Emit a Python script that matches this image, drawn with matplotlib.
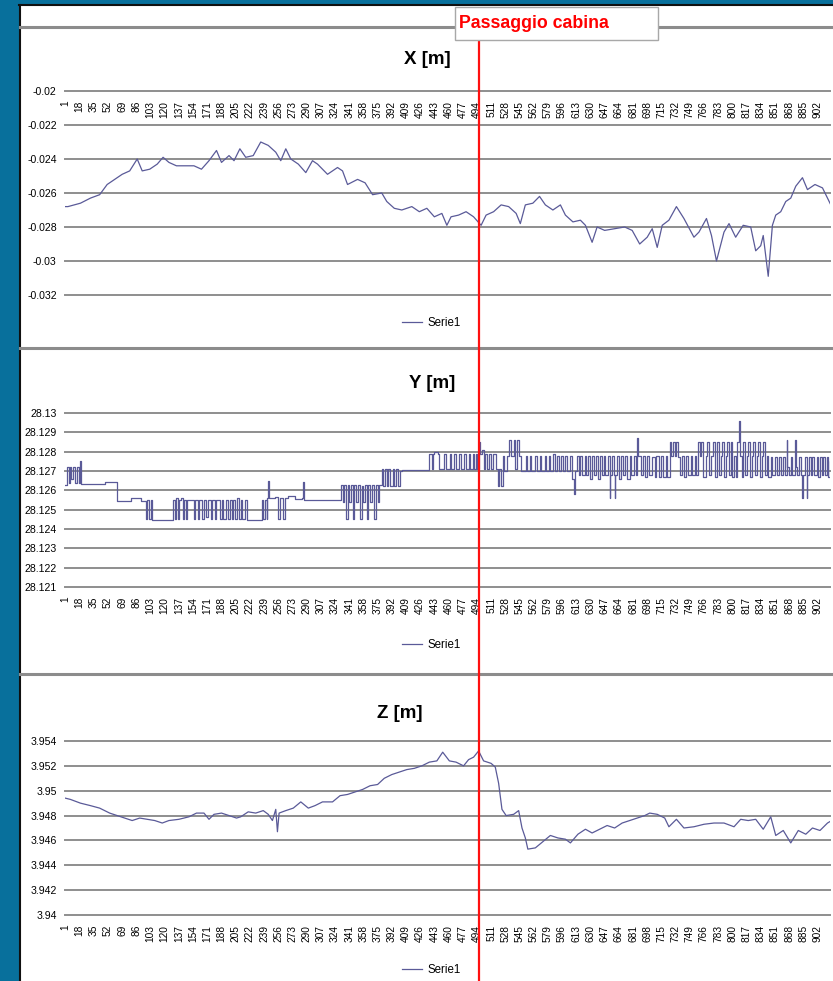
import numpy as np
import matplotlib
matplotlib.use("Agg")
import matplotlib.pyplot as plt
from matplotlib import font_manager
from matplotlib.lines import Line2D
from matplotlib.patches import Rectangle
from matplotlib.ticker import FuncFormatter

W, H = 833, 981

installed = {f.name for f in font_manager.fontManager.ttflist}
NARROW = "Liberation Sans Narrow" if "Liberation Sans Narrow" in installed else "Liberation Sans"
PLAIN = "Liberation Sans"

# sample index of each reading (1 ... ~919)
x_idx = [1, 4, 19, 31, 42, 51, 60, 69, 78, 87, 93, 102, 111, 118, 125, 134, 143, 155, 164,
         173, 182, 188, 197, 203, 210, 217, 226, 235, 244, 253, 259, 265, 271, 280, 289, 297,
         303, 315, 327, 333, 339, 351, 360, 369, 380, 386, 395, 404, 416, 425, 434, 443, 452,
         458, 463, 472, 481, 490, 499, 505, 514, 523, 532, 541, 546, 552, 561, 569, 576, 585,
         594, 600, 609, 618, 624, 632, 638, 647, 659, 671, 680, 689, 698, 704, 710, 716, 724,
         733, 742, 754, 760, 769, 775, 781, 790, 796, 804, 813, 822, 828, 834, 837, 843, 848,
         852, 858, 864, 870, 876, 884, 890, 899, 908, 914, 919]
x_val = [-0.0268, -0.0268, -0.0266, -0.0263, -0.0261, -0.0255, -0.0252, -0.0249, -0.0247,
         -0.0240, -0.0247, -0.0246, -0.0243, -0.0239, -0.0242, -0.0244, -0.0244, -0.0244,
         -0.0246, -0.0241, -0.0235, -0.0242, -0.0238, -0.0241, -0.0234, -0.0239, -0.0238,
         -0.0230, -0.0232, -0.0236, -0.0241, -0.0234, -0.0240, -0.0243, -0.0248, -0.0241,
         -0.0243, -0.0249, -0.0245, -0.0247, -0.0255, -0.0252, -0.0254, -0.0261, -0.0260,
         -0.0265, -0.0269, -0.0270, -0.0268, -0.0271, -0.0269, -0.0274, -0.0272, -0.0279,
         -0.0274, -0.0273, -0.0271, -0.0274, -0.0279, -0.0273, -0.0271, -0.0267, -0.0268,
         -0.0272, -0.0278, -0.0267, -0.0266, -0.0262, -0.0267, -0.0270, -0.0267, -0.0273,
         -0.0277, -0.0276, -0.0279, -0.0289, -0.0280, -0.0282, -0.0281, -0.0280, -0.0282,
         -0.0290, -0.0286, -0.0281, -0.0292, -0.0279, -0.0276, -0.0268, -0.0275, -0.0286,
         -0.0283, -0.0275, -0.0285, -0.0300, -0.0283, -0.0278, -0.0286, -0.0279, -0.0280,
         -0.0294, -0.0291, -0.0285, -0.0309, -0.0279, -0.0273, -0.0271, -0.0265, -0.0263,
         -0.0256, -0.0251, -0.0258, -0.0255, -0.0257, -0.0263, -0.0268]

# Y is quantised: each knot holds its value until the next one
y_idx = [1, 3, 5, 6, 8, 10, 13, 15, 17, 19, 20,
         49, 63, 79, 91, 97, 99, 101, 103, 105,
         130, 132, 133, 136, 137, 140, 142, 143, 146, 147,
         155, 156, 160, 161, 165, 167, 170, 172, 176, 177, 180, 182, 186, 188, 190, 193, 196,
         198, 200, 202, 204, 206, 209, 211, 213, 216, 218, 236, 238, 240, 242, 243,
         244, 245, 252, 256, 258, 262, 264, 268, 276, 285, 286, 287,
         331, 333, 335, 337, 339, 341, 343, 345, 347, 349, 351, 354, 356, 358, 360, 362, 364,
         366, 368, 371, 373, 376, 377,
         380, 382, 384, 386, 388, 390, 393, 395, 397, 400, 402, 404,
         437, 440, 441, 443, 447, 449, 455, 457, 462, 463, 467, 469, 473, 475, 479, 481, 484,
         486, 489, 490, 493, 494,
         496, 498, 500, 502, 504, 506, 508, 511, 513, 517, 519, 521, 523, 525, 527, 530, 533,
         535, 538, 540, 542, 544, 547, 553, 554, 558, 559, 564, 566, 569, 571, 575, 577, 580,
         582, 585, 587, 590, 592, 595, 597, 600, 602, 606, 608, 610, 611,
         614, 616, 618, 620, 623, 625, 627, 630, 632, 634, 637, 639, 641, 644, 646, 648, 651,
         653, 654, 656, 658, 659, 660, 662, 664, 667, 669, 672, 674, 677, 679, 682, 684, 686,
         687, 690, 693, 695, 698, 700, 704, 707, 709, 712, 715, 717, 720, 722, 725, 727, 729,
         731, 733, 735, 737, 740, 742, 745, 747, 750, 752, 755, 757, 759, 761, 763, 765, 768,
         770, 772, 775, 777, 779, 782, 784, 786, 788, 790, 792, 794, 796, 798, 800, 802, 804,
         806, 808, 809, 811, 813, 815, 817, 819, 821, 823, 825, 827, 829, 831, 833, 835, 837,
         839, 841, 843, 846, 848, 851, 853, 856, 858, 861, 863, 865, 866, 868, 870, 872, 875,
         876, 878, 880, 882, 884, 885, 887, 889, 890, 892, 894, 896, 898, 901, 903, 905, 907,
         909, 911, 913, 915, 917, 919]
y_val = [28.1263, 28.1272, 28.1264, 28.1272, 28.1266, 28.1272, 28.1264, 28.1272, 28.1264,
         28.1275, 28.12635,
         28.12645, 28.12545, 28.1256, 28.12545, 28.1245, 28.1255, 28.1245, 28.1255, 28.12445,
         28.1255, 28.1245, 28.1256, 28.1245, 28.1255, 28.1256, 28.1245, 28.1255, 28.1245,
         28.1255,
         28.1245, 28.1255, 28.1245, 28.1255, 28.1245, 28.1255, 28.1246, 28.1255, 28.1245,
         28.1255, 28.1245, 28.1255, 28.1245, 28.1255, 28.1245, 28.1255, 28.1245, 28.1255,
         28.1245, 28.1255, 28.1245, 28.1256, 28.1245, 28.1255, 28.1245, 28.1255, 28.12445,
         28.1255, 28.1245, 28.1255, 28.1245, 28.1256,
         28.1265, 28.1256, 28.12565, 28.1245, 28.1256, 28.1245, 28.1256, 28.1257, 28.12555,
         28.1256, 28.12645, 28.1255,
         28.1263, 28.1254, 28.1263, 28.1245, 28.1263, 28.1254, 28.1263, 28.1245, 28.1263,
         28.1254, 28.1263, 28.1245, 28.1262, 28.1254, 28.1263, 28.1245, 28.1263, 28.1254,
         28.1263, 28.1245, 28.1263, 28.1254, 28.1263,
         28.1271, 28.1262, 28.1271, 28.1262, 28.1271, 28.1262, 28.1271, 28.1262, 28.1271,
         28.1262, 28.1270, 28.12705,
         28.1279, 28.1271, 28.1279, 28.1280, 28.1279, 28.1271, 28.1279, 28.1271, 28.1279,
         28.1271, 28.1279, 28.1271, 28.1279, 28.1271, 28.1279, 28.1271, 28.1279, 28.1271,
         28.1279, 28.1271, 28.1279, 28.1271,
         28.1285, 28.1279, 28.1281, 28.1271, 28.1279, 28.1271, 28.1279, 28.1271, 28.1279,
         28.1271, 28.1262, 28.1271, 28.1262, 28.1278, 28.1270, 28.1278, 28.1286, 28.1278,
         28.1286, 28.1271, 28.1286, 28.1278, 28.1270, 28.1278, 28.1270, 28.1278, 28.1270,
         28.1278, 28.1270, 28.1278, 28.1270, 28.1278, 28.1270, 28.1278, 28.1270, 28.1279,
         28.1270, 28.1278, 28.1270, 28.1278, 28.1270, 28.1278, 28.1270, 28.1278, 28.1266,
         28.1258, 28.1270,
         28.1278, 28.1268, 28.1278, 28.1268, 28.1278, 28.1268, 28.1278, 28.1266, 28.1278,
         28.1268, 28.1278, 28.1266, 28.1278, 28.1268, 28.1278, 28.1268, 28.1278, 28.1256,
         28.1268, 28.1278, 28.1268, 28.1256, 28.1268, 28.1278, 28.1266, 28.1278, 28.1268,
         28.1278, 28.1266, 28.1278, 28.1268, 28.1278, 28.1268, 28.1287, 28.1278, 28.1268,
         28.1278, 28.1267, 28.1278, 28.1268, 28.1277, 28.1267, 28.1278, 28.1267, 28.1278,
         28.1267, 28.1278, 28.1267, 28.1285, 28.1278, 28.1285, 28.1278, 28.1285, 28.1277,
         28.1268, 28.1278, 28.1267, 28.1278, 28.1268, 28.1278, 28.1268, 28.1278, 28.1268,
         28.1285, 28.1278, 28.1285, 28.1267, 28.1278, 28.1285, 28.1268, 28.1278, 28.1285,
         28.1267, 28.1285, 28.1268, 28.1278, 28.1285, 28.1267, 28.1278, 28.1285, 28.1268,
         28.1285, 28.1267, 28.1278, 28.1267, 28.1285, 28.1296, 28.1278, 28.1267, 28.1285,
         28.1268, 28.1278, 28.1285, 28.1267, 28.1278, 28.1285, 28.1268, 28.1278, 28.1285,
         28.1267, 28.1278, 28.1285, 28.1268, 28.1278, 28.1267, 28.1277, 28.1268, 28.1277,
         28.1268, 28.1277, 28.1268, 28.1277, 28.1268, 28.1286, 28.1272, 28.1268, 28.1277,
         28.1268, 28.1286, 28.1272, 28.1268, 28.1277, 28.1268, 28.1256, 28.1268, 28.1277,
         28.1256, 28.1268, 28.1277, 28.1268, 28.1277, 28.1268, 28.1277, 28.1267, 28.1277,
         28.1268, 28.1277, 28.1268, 28.1277, 28.1267, 28.1275, 28.1268]

z_idx = [1, 7, 19, 31, 42, 54, 63, 72, 81, 90, 99, 108, 117, 125, 137, 149, 158, 167, 173,
         179, 188, 197, 206, 211, 220, 229, 238, 244, 249, 253, 255, 257, 265, 274, 283, 292,
         300, 309, 321, 330, 339, 348, 357, 366, 375, 383, 392, 401, 410, 419, 428, 437, 446,
         453, 461, 469, 478, 484, 490, 496, 502, 511, 516, 520, 524, 529, 538, 544, 548, 552,
         555, 564, 573, 582, 591, 600, 606, 615, 624, 632, 641, 650, 659, 668, 677, 686, 695,
         701, 710, 719, 724, 733, 742, 754, 766, 778, 790, 802, 810, 819, 828, 837, 846, 852,
         861, 870, 879, 888, 896, 905, 914, 919]
z_val = [3.9494, 3.9493, 3.9490, 3.9488, 3.9486, 3.9482, 3.9480, 3.9478, 3.9476, 3.9478,
         3.9477, 3.9476, 3.9474, 3.9476, 3.9477, 3.9479, 3.9482, 3.9482, 3.9477, 3.9481,
         3.9482, 3.9480, 3.9478, 3.9479, 3.9483, 3.9482, 3.9484, 3.9481, 3.9476, 3.9485,
         3.9467, 3.9482, 3.9484, 3.9486, 3.9491, 3.9486, 3.9488, 3.9491, 3.9491, 3.9496,
         3.9497, 3.9499, 3.9501, 3.9504, 3.9505, 3.9510, 3.9513, 3.9515, 3.9517, 3.9518,
         3.9520, 3.9523, 3.9524, 3.9531, 3.9524, 3.9523, 3.9520, 3.9525, 3.9527, 3.9532,
         3.9524, 3.9522, 3.9519, 3.9506, 3.9485, 3.9480, 3.9481, 3.9484, 3.9470, 3.9462,
         3.9453, 3.9454, 3.9459, 3.9464, 3.9462, 3.9461, 3.9458, 3.9465, 3.9469, 3.9466,
         3.9469, 3.9472, 3.9470, 3.9474, 3.9476, 3.9478, 3.9480, 3.9482, 3.9481, 3.9478,
         3.9471, 3.9477, 3.9470, 3.9471, 3.9473, 3.9474, 3.9474, 3.9471, 3.9477, 3.9476,
         3.9477, 3.9469, 3.9479, 3.9464, 3.9468, 3.9458, 3.9468, 3.9465, 3.9470, 3.9468,
         3.9474, 3.9476]

cat_ticks = list(range(1, 903, 17))
x_ticks = np.linspace(-0.032, -0.02, 7)
y_ticks = np.linspace(28.121, 28.13, 10)
z_ticks = np.linspace(3.94, 3.954, 8)

LINE = "#5a5a98"
GRID = "#8e8e8e"
PLOT_L, PLOT_R = 65, 830
XMIN, XMAX = 0.5, 917.0


def fx(px):
    return px / W


def fy(py):
    return 1 - py / H


def box(left, top, right, bottom):
    return [fx(left), fy(bottom), (right - left) / W, (bottom - top) / H]


def excel_num(v, _pos=None):
    return f"{round(v, 4):g}"


def category_labels(ax):
    ax.set_xticks(cat_ticks)
    ax.set_xticklabels([str(c) for c in cat_ticks], rotation=90, fontsize=7.3, family=PLAIN)
    ax.tick_params(axis="x", length=0, pad=7)


fig = plt.figure(figsize=(W / 100, H / 100), dpi=100)
fig.patch.set_facecolor("#08709c")
fig.add_artist(Rectangle((fx(19), 0), 1, fy(5), transform=fig.transFigure,
                         facecolor="white", edgecolor="none", zorder=-2))
fig.add_artist(Line2D([fx(19.5), fx(19.5)], [0, fy(5)], color="#101010", lw=1.5,
                      transform=fig.transFigure, zorder=-1))
fig.add_artist(Line2D([fx(19), 1], [fy(5), fy(5)], color="#101010", lw=1.5,
                      transform=fig.transFigure, zorder=-1))


def panel(top, bottom, ticks, idx, vals, title, title_xy, legend_y, steps=False, labels=True):
    ax = fig.add_axes(box(PLOT_L, top, PLOT_R, bottom))
    ax.set_facecolor("none")
    for t in ticks:
        ax.axhline(t, color=GRID, lw=1.4, clip_on=False, zorder=1)
    ax.plot(idx, vals, color=LINE, lw=0.9, label="Serie1", zorder=3,
            drawstyle="steps-post" if steps else "default")
    ax.set_xlim(XMIN, XMAX)
    ax.set_ylim(ticks[0], ticks[-1])
    ax.set_yticks(ticks)
    ax.yaxis.set_major_formatter(FuncFormatter(excel_num))
    ax.tick_params(axis="y", length=0, pad=6, labelsize=7.6)
    for lab in ax.get_yticklabels():
        lab.set_family(NARROW)
    for s in ax.spines.values():
        s.set_visible(False)
    if labels:
        category_labels(ax)
    else:
        ax.set_xticks([])
    fig.text(fx(title_xy[0]), fy(title_xy[1]), title, ha="center", va="center",
             fontsize=13.5, fontweight="bold", family=NARROW)
    ax.legend(loc="center", bbox_to_anchor=(fx(431), fy(legend_y)),
              bbox_transform=fig.transFigure, frameon=False, handlelength=1.8,
              handletextpad=0.4, prop={"family": NARROW, "size": 8.3})
    return ax


# X panel: negative values, so the category axis sits on the top gridline
panel(91, 295, x_ticks, x_idx, x_val, "X [m]", (427, 60), 323, labels=False)
lab_ax = fig.add_axes(box(PLOT_L, 90.5, PLOT_R, 91))
lab_ax.set_xlim(XMIN, XMAX)
lab_ax.set_yticks([])
lab_ax.patch.set_visible(False)
for s in lab_ax.spines.values():
    s.set_visible(False)
category_labels(lab_ax)

panel(413, 587, y_ticks, y_idx, y_val, "Y [m]", (432, 383), 645, steps=True)
panel(741, 915, z_ticks, z_idx, z_val, "Z [m]", (400, 713), 970)

# chart borders between the three stacked charts
for yy in (27, 348, 674):
    fig.add_artist(Line2D([fx(20), 1], [fy(yy), fy(yy)], color="#8c8c8c", lw=2.2,
                          transform=fig.transFigure, zorder=5))

# cabin passage marker
fig.add_artist(Line2D([fx(479), fx(479)], [fy(40), 0], color="#ff1010", lw=1.6,
                      transform=fig.transFigure, zorder=20))
fig.add_artist(Rectangle((fx(455), fy(40)), (658 - 455) / W, 33 / H, transform=fig.transFigure,
                         facecolor="white", edgecolor="#a8a8a8", lw=1.0, zorder=21))
fig.text(fx(459), fy(24), "Passaggio cabina", ha="left", va="center", color="#ff0000",
         fontsize=12.8, fontweight="bold", family=NARROW, zorder=22)

fig.savefig("out.png", dpi=100, facecolor=fig.get_facecolor())
